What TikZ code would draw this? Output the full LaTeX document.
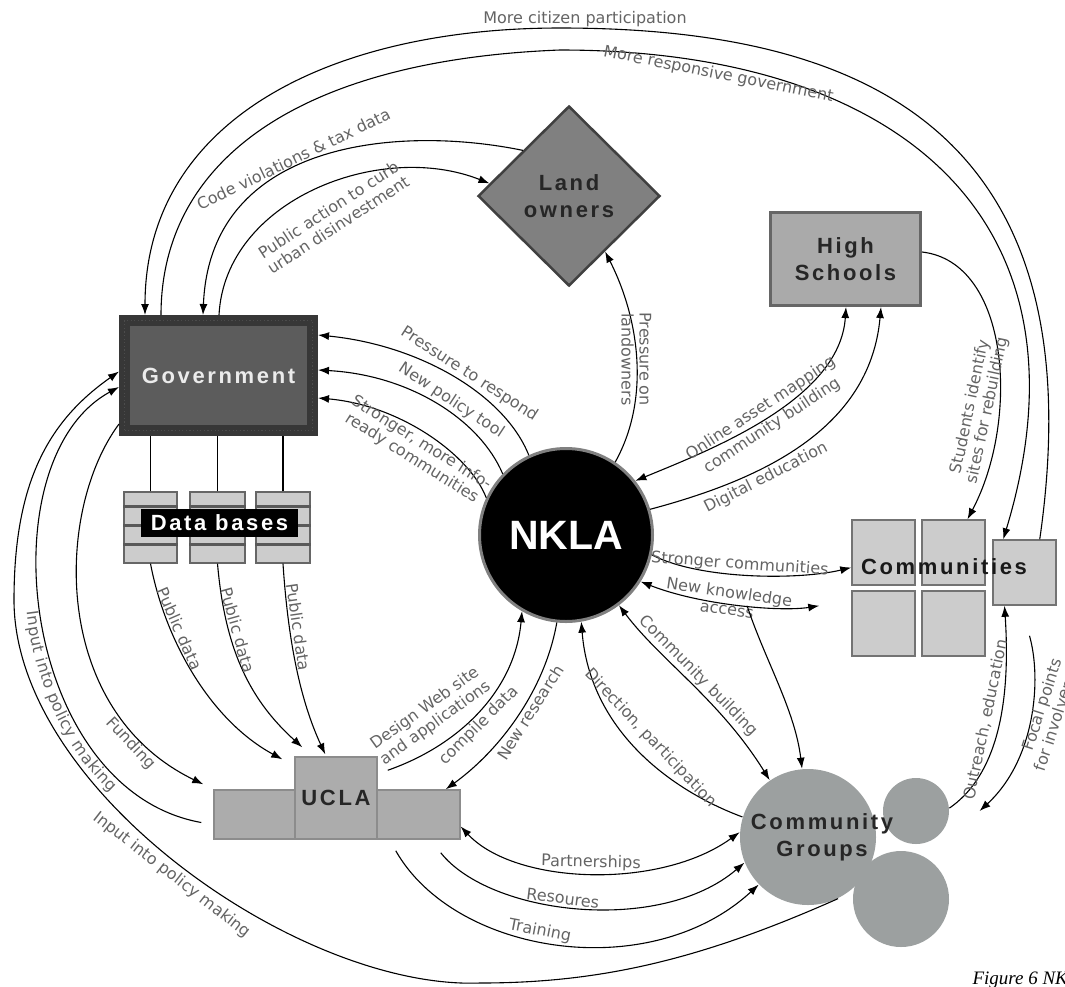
\documentclass[tikz,border=0pt]{standalone}
\usepackage{fontspec}
\setmainfont{DejaVu Sans}
\newfontfamily\boxfont[LetterSpace=12]{Liberation Sans}
\newfontfamily\bigfont{Liberation Sans}
\newfontfamily\capfont{Liberation Serif}
\newcommand\lblfont{\fontsize{16}{18}\selectfont}
\usetikzlibrary{shapes.geometric,arrows.meta,decorations.text}
\definecolor{lblgray}{RGB}{100,100,100}
\definecolor{govband}{RGB}{55,55,55}
\definecolor{govfill}{RGB}{92,92,92}
\definecolor{landfill}{RGB}{128,128,128}
\definecolor{schoolfill}{RGB}{170,170,170}
\definecolor{sqfill}{RGB}{204,204,204}
\definecolor{uclafill}{RGB}{172,172,172}
\definecolor{groupfill}{RGB}{156,160,160}

\begin{document}
\begin{tikzpicture}[x=1pt,y=-1pt,>={Latex[length=11pt,width=8pt]},line width=1.1pt]
\tikzstyle{blk} = [rectangle,inner sep=0pt,align=center,font=\boxfont\bfseries\fontsize{22}{27}\selectfont]
\tikzstyle{sq} = [rectangle,draw=black!55,fill=sqfill,line width=1.5pt,minimum width=63,minimum height=65,inner sep=0pt]
\tikzstyle{blob} = [circle,fill=groupfill,inner sep=0pt]
\tikzstyle{dbase} = [rectangle,draw=black!60,fill=sqfill,line width=1.2pt,minimum height=71,inner sep=0pt]
\tikzstyle{lbl} = [font=\lblfont,text=lblgray,inner sep=2pt,align=center]

\useasboundingbox (0,0) rectangle (1065,986);

\node[blk,draw=govband,fill=govfill,line width=11pt,minimum width=188,minimum height=110,text=white!92!black,
  postaction={draw=black!70,line width=1.2pt,dash pattern=on 1.2pt off 2.4pt}] (gov) at (218.5,375.5) {Government};
\node[dbase,minimum width=53] (db1) at (150.5,527.5) {};
\node[dbase,minimum width=55] (db2) at (217.5,527.5) {};
\node[dbase,minimum width=54] (db3) at (283,527.5) {};
\foreach \s in {db1,db2,db3}
  \foreach \d in {15,34,53}
    \draw[line width=3pt,black!65] ([yshift=-\d]\s.north west) -- ([yshift=-\d]\s.north east);
\node[blk,fill=black,text=white,minimum width=157,minimum height=28] (dbl) at (219.5,523) {Data bases};
\node[blk,diamond,draw=black!75,fill=landfill,line width=2.5pt,minimum width=182,minimum height=180,text=black!85] (land) at (569,196) {Land\\owners};
\node[blk,draw=black!60,fill=schoolfill,line width=3pt,minimum width=150,minimum height=93,text=black!85] (hs) at (845.5,259) {High\\Schools};
\node[circle,draw=gray,fill=black,line width=3pt,minimum size=173,inner sep=0pt,text=white,
  font=\bigfont\bfseries\fontsize{41}{45}\selectfont] (nkla) at (566,535) {NKLA};
\node[sq] (c1) at (883.5,552.5) {};
\node[sq] (c2) at (953.5,552.5) {};
\node[sq] (c3) at (883.5,623.5) {};
\node[sq] (c4) at (953.5,623.5) {};
\node[sq] (c5) at (1024.5,572.5) {};
\node[blk,text=black!90] (comm) at (944,567) {Communities};
\node[blk,draw=black!45,fill=uclafill,line width=1.5pt,minimum width=81,minimum height=49] (uclaL) at (254.5,814.5) {};
\node[blk,draw=black!45,fill=uclafill,line width=1.5pt,minimum width=83,minimum height=49] (uclaR) at (418.5,814.5) {};
\node[blk,draw=black!45,fill=uclafill,line width=1.5pt,minimum width=82,minimum height=82,text=black!85] (ucla) at (336,798) {UCLA};
\node[blob,minimum size=136] (cgbig) at (808,837) {};
\node[blob,minimum size=66] (cgsmall) at (916,811) {};
\node[blob,minimum size=96] (cglow) at (901,899) {};
\node[blk,text=black!85] (cg) at (822,837) {Community\\Groups};
\node[font=\capfont\itshape\fontsize{19}{21}\selectfont,anchor=base west,inner sep=0pt] (cap) at (972,984) {Figure 6 NKLA};

\foreach \s in {db1,db2,db3}
  \draw (\s.north) -- (\s.north |- gov.south);

\draw[->] ([xshift=-17]c5.north east) .. controls (1100,120) and (850,28) .. (560,28)
  node[lbl,above,xshift=25,inner sep=1pt] {More citizen participation}
  .. controls (330,28) and (145,120) .. ([xshift=26]gov.north west);
\draw[->] ([xshift=42]gov.north west) .. controls (161,160) and (300,60) .. (560,50)
  .. controls (900,50) and (1100,220) .. ([xshift=11]c5.north west) node[lbl,below,sloped,pos=.17] {More responsive government};
\draw[->] (land.north west) .. controls (400,125) and (210,140) .. ([xshift=84]gov.north west)
  node[lbl,above,sloped,pos=.56] {Code violations \& tax data};
\draw[->] ([xshift=100]gov.north west) .. controls (225,200) and (380,140) .. (land.171)
  node[lbl,pos=.5,rotate=33,anchor=north,inner sep=17pt] {Public action to curb\\urban disinvestment};

\draw[->] (nkla.115) .. controls (505,395) and (420,345) .. ([yshift=-20]gov.north east) node[lbl,above,sloped,pos=.45] {Pressure to respond};
\draw[->] (nkla.136) .. controls (480,420) and (410,375) .. ([yshift=-55]gov.north east) node[lbl,above,sloped,pos=.45] {New policy tool};
\draw[->] (nkla.155) .. controls (470,455) and (400,405) .. ([yshift=-83]gov.north east) node[lbl,below,sloped,pos=.5] {Stronger, more info-\\ready communities};
\draw[->] (nkla.56) .. controls (650,400) and (640,320) .. (land.303) node[lbl,pos=.5,rotate=-90] {Pressure on\\landowners};

\draw[<->] (nkla.38) .. controls (710,450) and (840,400) .. ([xshift=77]hs.south west)
  node[lbl,above,sloped,pos=.5] {Online asset mapping} node[lbl,below,sloped,pos=.5] {community building};
\draw[->] (nkla.17) .. controls (760,480) and (870,430) .. ([xshift=112]hs.south west) node[lbl,below,sloped,pos=.35] {Digital education};
\draw[->] ([yshift=7]hs.east) .. controls (1010,262) and (1020,420) .. ([xshift=14]c2.north) node[lbl,pos=.68,rotate=78,above] {Students identify\\sites for rebuilding};

\draw[->] (nkla.347) .. controls (700,580) and (800,580) .. ([yshift=-15]c1.west) node[lbl,above,sloped,pos=.45] {Stronger communities};
\draw[<->] (nkla.328) .. controls (700,605) and (780,612) .. ([xshift=-32,yshift=-20]c1.south west)
  node[lbl,above,sloped,pos=.45] {New knowledge} node[lbl,below,sloped,pos=.45] {access} coordinate[pos=.55] (knowfork);
\draw[->] (knowfork) .. controls (765,660) and (795,710) .. (cgbig.95);
\draw[<->] (nkla.307) .. controls (660,660) and (720,700) .. (cgbig.124) node[lbl,above,sloped,pos=.5] {Community building};
\draw[->] (cgbig.163) .. controls (670,790) and (590,730) .. (nkla.280) node[lbl,above,sloped,pos=.5,inner sep=9pt] {Direction, participation};
\draw[->] (nkla.264) .. controls (545,690) and (500,750) .. ([xshift=-15]uclaR.north east) node[lbl,below,sloped,pos=.45] {New research};
\draw[->] ([xshift=10,yshift=-14]ucla.north east) .. controls (460,745) and (515,690) .. (nkla.240)
  node[lbl,above,sloped,pos=.3,inner sep=12pt] {Design Web site\\and applications} node[lbl,below,sloped,pos=.45] {compile data};

\draw[->] (db1.south) .. controls (165,640) and (210,720) .. ([xshift=-12,yshift=-3]ucla.north west) node[lbl,above,sloped,pos=.3] {Public data};
\draw[->] (db2.south) .. controls (225,650) and (250,700) .. ([xshift=8,yshift=9]ucla.north west) node[lbl,above,sloped,pos=.3] {Public data};
\draw[->] (db3.south) .. controls (288,640) and (300,700) .. ([xshift=31,yshift=2]ucla.north west) node[lbl,above,sloped,pos=.3] {Public data};

\draw[->] (gov.206) .. controls (55,510) and (50,710) .. ([xshift=-10,yshift=5]uclaL.north west) node[lbl,below,sloped,pos=.83] {Funding};
\draw[->] ([xshift=-12,yshift=-8]uclaL.west) .. controls (20,790) and (-15,460) .. ([yshift=-72]gov.north west);
\path[decorate,decoration={text along path,text color=lblgray,raise=-14pt,text align={left indent=250pt},
  text={|\lblfont|Input into policy making}}] ([yshift=-72]gov.north west) .. controls (-15,460) and (20,790) .. ([xshift=-12,yshift=-8]uclaL.west);
\draw[->] (cgbig.296) .. controls (700,960) and (600,983) .. (480,983)
  .. controls (300,990) and (14,790) .. (14,600) node[lbl,below,sloped,pos=.5,inner sep=4pt] {Input into policy making}
  .. controls (14,480) and (50,420) .. ([yshift=4]gov.west);

\draw[<->] ([yshift=-12]uclaR.east) .. controls (515,885) and (660,890) .. (cgbig.176) node[lbl,above,sloped,pos=.5] {Partnerships};
\draw[->] ([xshift=-20,yshift=-13]uclaR.south east) .. controls (490,915) and (660,935) .. (cgbig.202) node[lbl,above,sloped,pos=.45] {Resoures};
\draw[->] ([xshift=18,yshift=-11]ucla.south east) .. controls (455,955) and (650,985) .. (cgbig.224) node[lbl,above,sloped,pos=.45] {Training};

\draw[->] (cgsmall.5) .. controls (990,780) and (1012,720) .. ([xshift=-20]c5.south) node[lbl,above,sloped,pos=.58,inner sep=6pt] {Outreach, education};
\draw[->] ([xshift=5,yshift=-30]c5.south) .. controls (1042,680) and (1035,760) .. ([xshift=30]cgsmall.east)
  node[lbl,pos=.4,rotate=72,below] {Focal points\\for involvement};

\end{tikzpicture}
\end{document}
